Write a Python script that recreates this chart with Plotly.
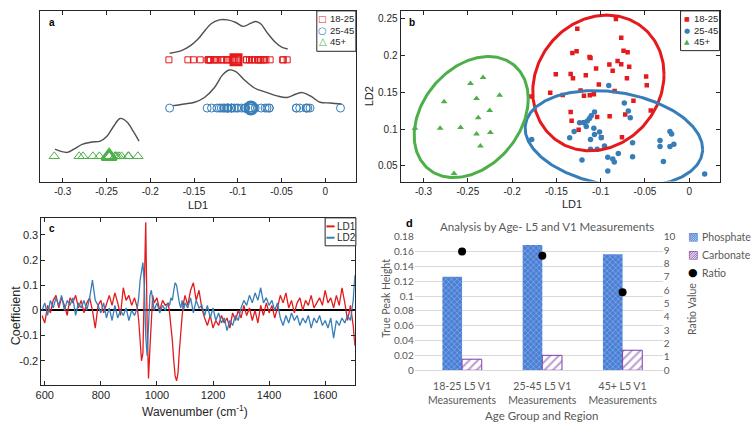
import numpy as np
import plotly.graph_objects as go

W, H = 752, 426


def px(X):
    return X / W


def py(Y):
    return 1 - Y / H


RED = "#e41a1c"
BLUE = "#377eb8"
GREEN = "#4daf4a"
CURVE = "#505050"
INK = "#262626"
XLGREY = "#595959"
MFONT = "Liberation Sans, Arial, Helvetica, sans-serif"
XFONT = "Lato, Open Sans, sans-serif"
SYMFONT = "DejaVu Sans, sans-serif"

# ---------------- panels a & b : LD scores per age group ----------------
groups = ["18-25", "25-45", "45+"]

ld1_18_25 = [-0.0828, -0.1264, -0.0768, -0.1320, -0.1272, -0.1126, -0.1115, -0.0742, -0.0696, -0.0902,
             -0.0865, -0.0809, -0.0768, -0.0678, -0.1507, -0.1339, -0.1313, -0.1168, -0.1052, -0.0704,
             -0.1021, -0.0487, -0.0480, -0.1570, -0.1429, -0.1227, -0.1189, -0.1123, -0.1077, -0.0843,
             -0.1787, -0.1339, -0.1328, -0.1189, -0.1040, -0.0899, -0.0723, -0.0630, -0.0435, -0.1249,
             -0.0992, -0.0760]
ld2_18_25 = [0.2491, 0.2360, 0.2237, 0.2032, 0.2054, 0.1975, 0.1962, 0.2062, 0.2040, 0.1874,
             0.1791, 0.1922, 0.1879, 0.1844, 0.1743, 0.1747, 0.1690, 0.1730, 0.1822, 0.1690,
             0.1603, 0.1712, 0.1594, 0.1493, 0.1463, 0.1524, 0.1450, 0.1458, 0.1472, 0.1515,
             0.1441, 0.1231, 0.1113, 0.1091, 0.1165, 0.1174, 0.1196, 0.1384, 0.1253, 0.0990,
             0.0890, 0.0890]

ld1_25_45 = [-0.0909, -0.0733, -0.0688, -0.0666, -0.1070, -0.1107, -0.1126, -0.1151, -0.1238, -0.1188,
             -0.1163, -0.1077, -0.1300, -0.1350, -0.1013, -0.1070, -0.0995, -0.0957, -0.1115, -0.1115,
             -0.1040, -0.1211, -0.0920, -0.0864, -0.0846, -0.0801, -0.0920, -0.0640, -0.0640, -0.0330,
             -0.0330, -0.0218, -0.0199, -0.0218, -0.0174, -0.0292, 0.0174, -0.1779]
ld2_25_45 = [0.1590, 0.1353, 0.1244, 0.1152, 0.1231, 0.1179, 0.1143, 0.1108, 0.1087, 0.1087,
             0.1034, 0.1012, 0.0968, 0.0881, 0.0960, 0.0925, 0.0881, 0.0772, 0.0859, 0.0728,
             0.0728, 0.0583, 0.0618, 0.0596, 0.0553, 0.0671, 0.0434, 0.0815, 0.0627, 0.0846,
             0.0763, 0.0968, 0.0933, 0.0763, 0.0793, 0.0561, 0.0391, 0.0859]

ld1_45 = [-0.3097, -0.2813, -0.2768, -0.2582, -0.2470, -0.2328, -0.2402, -0.2141, -0.2253, -0.2383,
          -0.2402, -0.2246, -0.2358, -0.2656]
ld2_45 = [0.1012, 0.1012, 0.1370, 0.1021, 0.1616, 0.1699, 0.1415, 0.1458, 0.1252, 0.1152,
          0.0933, 0.0955, 0.0772, 0.0399]

group_means_ld1 = [-0.102, -0.085, -0.247]
row_levels = [3, 2, 1]

# density curves drawn above each row (panel a)
kde_18_25_ld1 = [-0.1778, -0.1645, -0.1532, -0.1457, -0.1381, -0.1305, -0.1211, -0.1117, -0.1022,
                 -0.0935, -0.0851, -0.0795, -0.0738, -0.0663, -0.0568, -0.0493, -0.0429]
kde_18_25_h = [3.137, 3.191, 3.306, 3.426, 3.593, 3.748, 3.828, 3.828, 3.774,
               3.693, 3.760, 3.794, 3.748, 3.559, 3.358, 3.257, 3.225]
kde_25_45_ld1 = [-0.1740, -0.1608, -0.1494, -0.1381, -0.1268, -0.1173, -0.1098, -0.1022, -0.0927, -0.0814,
                 -0.0663, -0.0550, -0.0437, -0.0341, -0.0266, -0.0171, -0.0058, 0.0056, 0.0187]
kde_25_45_h = [2.051, 2.085, 2.120, 2.220, 2.421, 2.688, 2.789, 2.755, 2.588, 2.421,
               2.321, 2.252, 2.220, 2.286, 2.321, 2.252, 2.120, 2.106, 2.085]
kde_45_ld1 = [-0.3090, -0.2949, -0.2874, -0.2779, -0.2666, -0.2571, -0.2495, -0.2421, -0.2345,
              -0.2269, -0.2194, -0.2129]
kde_45_h = [1.147, 1.080, 1.147, 1.247, 1.295, 1.316, 1.416, 1.617, 1.784, 1.718, 1.517, 1.316]

# confidence ellipses (panel b): centre, conjugate semi-axis u, vertical semi-axis
ell_center = [(-0.1026, 0.1625), (-0.0851, 0.0870), (-0.2462, 0.1163)]
ell_u = [(0.0741, 0.0118), (0.1002, -0.0142), (0.0644, 0.0249)]
ell_vy = [0.0911, 0.0635, 0.0781]

ld_ticks = [-0.3, -0.25, -0.2, -0.15, -0.1, -0.05, 0]
ld_tick_text = ["-0.3", "-0.25", "-0.2", "-0.15", "-0.1", "-0.05", "0"]
ld2_ticks = [0.05, 0.1, 0.15, 0.2, 0.25]
ld2_tick_text = ["0.05", "0.1", "0.15", "0.2", "0.25"]

# ---------------- panel c : LD coefficients vs wavenumber ----------------
wavenumber = [590, 600, 610, 620, 630, 640, 650, 660, 670, 680, 690, 700, 710, 720, 730, 740, 750, 760,
              770, 780, 790, 800, 810, 820, 830, 840, 850, 860, 870, 880, 890, 900, 910, 920,
              930, 935, 940, 945, 950, 955, 960, 965, 970, 975, 980, 985, 990,
              1000, 1010, 1020, 1030, 1040,
              1045, 1050, 1055, 1060, 1065, 1070, 1075, 1080, 1085, 1090, 1095,
              1100, 1110, 1120, 1130, 1140, 1150, 1160, 1170, 1180, 1190, 1200, 1210, 1220, 1230,
              1240, 1250, 1260, 1270, 1280, 1290, 1300, 1310, 1320, 1330, 1340, 1350, 1360, 1370,
              1380, 1390, 1400, 1410, 1420, 1430, 1440, 1450, 1460, 1470, 1480, 1490, 1500, 1510,
              1520, 1530, 1540, 1550, 1560, 1570, 1580, 1590, 1600, 1610, 1620, 1630, 1640, 1650,
              1660, 1670, 1680, 1690, 1700, 1706]
coef_ld1 = [-0.02, -0.05, 0.02, -0.01, 0.04, 0.06, 0.01, 0.05, 0.02, -0.02, 0.05, 0.03, 0.06, 0.01,
            0.04, -0.01, 0.03, 0.05, 0.00, -0.07, 0.02, 0.04, -0.01, 0.03, 0.06, 0.02, 0.07, 0.03,
            -0.02, 0.09, 0.04, 0.06, 0.02, 0.05,
            0.01, -0.04, -0.12, -0.20, -0.17, 0.05, 0.35, -0.05, -0.27, -0.15, -0.02, 0.06, 0.03,
            0.05, 0.00, 0.04, 0.02, 0.03,
            -0.01, -0.06, -0.12, -0.20, -0.26, -0.28, -0.25, -0.16, -0.08, -0.02, 0.03,
            0.06, 0.02, 0.08, 0.11, 0.04, 0.08, 0.01, -0.03, -0.06, -0.02, -0.07, -0.04, -0.06,
            -0.02, -0.05, -0.03, -0.07, -0.01, -0.04, 0.00, -0.03, 0.02, -0.02, 0.01, -0.04,
            0.00, -0.05, 0.02, -0.02, 0.03, -0.01, 0.02, -0.03, 0.01, 0.06, 0.03, 0.07, 0.01,
            0.04, -0.01, 0.03, 0.05, 0.00, 0.04, 0.02, 0.06, 0.01, 0.03, 0.05, 0.02, 0.08,
            0.03, 0.05, 0.01, 0.06, 0.02, 0.09, 0.03, -0.04, 0.02, -0.06, -0.14]
coef_ld2 = [0.00, 0.03, -0.02, 0.04, 0.01, 0.05, 0.02, 0.06, 0.00, 0.04, 0.02, 0.05, -0.02, 0.03,
            0.01, 0.04, 0.00, 0.05, 0.12, 0.04, 0.02, -0.01, 0.03, -0.03, 0.01, -0.04, 0.02, -0.03,
            0.00, -0.02, 0.01, -0.04, 0.00, -0.02,
            0.01, 0.05, 0.12, 0.16, 0.19, 0.10, -0.10, -0.18, -0.08, 0.06, 0.08, 0.03, 0.00,
            0.03, -0.01, 0.02, 0.00, 0.03,
            0.02, 0.05, 0.04, 0.08, 0.11, 0.10, 0.06, 0.03, 0.01, 0.04, 0.00,
            0.03, 0.01, 0.05, -0.01, 0.04, 0.01, 0.02, -0.02, 0.02, -0.03, 0.01, -0.04, -0.01,
            -0.05, -0.03, -0.08, -0.04, -0.06, -0.02, -0.04, 0.01, 0.04, 0.02, 0.06, 0.03,
            0.07, 0.04, 0.09, 0.03, 0.05, 0.02, 0.04, 0.00, 0.03, -0.03, -0.06, -0.02, -0.05,
            -0.01, -0.04, -0.02, -0.06, -0.03, -0.05, -0.02, -0.07, -0.03, -0.05, -0.02, -0.06,
            -0.04, -0.07, -0.03, -0.11, -0.04, -0.06, -0.03, -0.05, -0.02, -0.04, 0.04, 0.14]
wn_ticks = [600, 800, 1000, 1200, 1400, 1600]
wn_tick_text = ["600", "800", "1000", "1200", "1400", "1600"]
coef_ticks = [-0.2, -0.1, 0, 0.1, 0.2, 0.3]
coef_tick_text = ["-0.2", "-0.1", "0", "0.1", "0.2", "0.3"]

# ---------------- panel d : peak heights by age ----------------
d_categories = ["18-25 L5 V1<br>Measurements", "25-45 L5 V1<br>Measurements", "45+ L5 V1<br>Measurements"]
phosphate = [0.126, 0.169, 0.1565]
carbonate = [0.0149, 0.0201, 0.027]
ratio = [8.89, 8.57, 5.84]
peak_ticks = [0, 0.02, 0.04, 0.06, 0.08, 0.1, 0.12, 0.14, 0.16, 0.18]
peak_tick_text = ["0", "0.02", "0.04", "0.06", "0.08", "0.1", "0.12", "0.14", "0.16", "0.18"]
ratio_ticks = [0, 1, 2, 3, 4, 5, 6, 7, 8, 9, 10]

fig = go.Figure()

# ---- panel a ----
ld1_sets = [ld1_18_25, ld1_25_45, ld1_45]
kde_x = [kde_18_25_ld1, kde_25_45_ld1, kde_45_ld1]
kde_y = [kde_18_25_h, kde_25_45_h, kde_45_h]
cols = [RED, BLUE, GREEN]
open_syms = ["square-open", "circle-open", "triangle-up-open"]
fill_syms = ["square", "circle", "triangle-up"]
size_a = [6, 8, 9]
size_mean = [10, 12, 13]
for i in range(3):
    fig.add_trace(go.Scatter(x=kde_x[i], y=kde_y[i], mode="lines", line=dict(color=CURVE, width=1.4, shape="spline"),
                             xaxis="x", yaxis="y", showlegend=False, hoverinfo="skip"))
    fig.add_trace(go.Scatter(x=ld1_sets[i], y=[row_levels[i]] * len(ld1_sets[i]), mode="markers",
                             marker=dict(symbol=open_syms[i], size=size_a[i], color=cols[i], line=dict(width=1)),
                             xaxis="x", yaxis="y", showlegend=False))
    fig.add_trace(go.Scatter(x=[group_means_ld1[i]], y=[row_levels[i]], mode="markers",
                             marker=dict(symbol=open_syms[i], size=size_mean[i], color=cols[i], line=dict(width=3)),
                             xaxis="x", yaxis="y", showlegend=False))

# ---- panel b ----
ld2_sets = [ld2_18_25, ld2_25_45, ld2_45]
size_b = [4.5, 5.5, 6]
for i in range(3):
    fig.add_trace(go.Scatter(x=ld1_sets[i], y=ld2_sets[i], mode="markers",
                             marker=dict(symbol=fill_syms[i], size=size_b[i], color=cols[i]),
                             xaxis="x2", yaxis="y2", showlegend=False))
t = np.linspace(0, 2 * np.pi, 241)
for i in range(3):
    cx, cy = ell_center[i]
    ux, uy = ell_u[i]
    ex = cx + ux * np.cos(t)
    ey = cy + uy * np.cos(t) + ell_vy[i] * np.sin(t)
    fig.add_trace(go.Scatter(x=ex, y=ey, mode="lines", line=dict(color=cols[i], width=3),
                             xaxis="x2", yaxis="y2", showlegend=False, hoverinfo="skip"))

# ---- panel c ----
fig.add_trace(go.Scatter(x=wavenumber, y=coef_ld1, mode="lines", line=dict(color=RED, width=1.3),
                         xaxis="x3", yaxis="y3", name="LD1", showlegend=False))
fig.add_trace(go.Scatter(x=wavenumber, y=coef_ld2, mode="lines", line=dict(color=BLUE, width=1.3),
                         xaxis="x3", yaxis="y3", name="LD2", showlegend=False))

# ---- panel d ----
fig.add_trace(go.Bar(x=d_categories, y=phosphate, name="Phosphate", xaxis="x4", yaxis="y4",
                     marker=dict(color="#4a7fd6", line=dict(width=0),
                                 pattern=dict(shape="x", fgcolor="#b9d0f2", bgcolor="#4a7fd6", size=4, solidity=0.35)),
                     showlegend=False))
fig.add_trace(go.Bar(x=d_categories, y=carbonate, name="Carbonate", xaxis="x4", yaxis="y4",
                     marker=dict(color="#7b3fa8", line=dict(width=1, color="#7b3fa8"),
                                 pattern=dict(shape="/", fgcolor="#7b3fa8", bgcolor="white", size=6, solidity=0.35)),
                     showlegend=False))
fig.add_trace(go.Scatter(x=d_categories, y=ratio, name="Ratio", mode="markers", xaxis="x4", yaxis="y5",
                         marker=dict(color="black", size=8), showlegend=False))

box = dict(showline=True, linecolor=INK, linewidth=1, mirror="ticks", ticks="inside", ticklen=4,
           tickcolor=INK, showgrid=False, zeroline=False)
tf10 = dict(family=MFONT, size=10, color=INK)
tf11 = dict(family=MFONT, size=11, color=INK)

fig.update_layout(
    width=W, height=H, margin=dict(l=0, r=0, t=0, b=0), paper_bgcolor="white", plot_bgcolor="white",
    barmode="group", bargap=0.51, bargroupgap=0,
    xaxis=dict(domain=[px(34.3), px(352.7)], range=[-0.326, 0.035], anchor="y", tickvals=ld_ticks,
               ticktext=ld_tick_text, tickfont=tf10, **box),
    yaxis=dict(domain=[py(181), py(4)], range=[0.457, 4.015], anchor="x", showticklabels=False,
               showline=True, linecolor=INK, linewidth=1, mirror=True, ticks="", showgrid=False, zeroline=False),
    xaxis2=dict(domain=[px(397.7), px(720)], range=[-0.326, 0.035], anchor="y2", tickvals=ld_ticks,
                ticktext=ld_tick_text, tickfont=tf10, **box),
    yaxis2=dict(domain=[py(180), py(4)], range=[0.029, 0.2601], anchor="x2", tickvals=ld2_ticks,
                ticktext=ld2_tick_text, tickfont=tf10, **box),
    xaxis3=dict(domain=[px(35.7), px(351.7)], range=[588, 1706], anchor="y3", tickvals=wn_ticks,
                ticktext=wn_tick_text, tickfont=tf11, **box),
    yaxis3=dict(domain=[py(389.5), py(217.5)], range=[-0.2946, 0.3676], anchor="x3", tickvals=coef_ticks,
                ticktext=coef_tick_text, tickfont=tf11,
                showline=True, linecolor=INK, linewidth=1, mirror="ticks", ticks="inside", ticklen=4,
                tickcolor=INK, showgrid=False, zeroline=True, zerolinecolor="black", zerolinewidth=1.5),
    xaxis4=dict(domain=[px(412), px(662)], range=[-0.59, 2.5], anchor="y4", type="category",
                showline=True, linecolor="#d9d9d9", linewidth=1, ticks="", showgrid=False, zeroline=False,
                ticklabelstandoff=6, tickfont=dict(family=XFONT, size=10.5, color=XLGREY)),
    yaxis4=dict(domain=[py(374.7), py(237)], range=[0, 0.18], anchor="x4", tickvals=peak_ticks,
                ticktext=peak_tick_text, showline=False, ticks="", showgrid=True, gridcolor="#d9d9d9",
                gridwidth=1, zeroline=False, tickfont=dict(family=XFONT, size=10, color=XLGREY)),
    yaxis5=dict(overlaying="y4", side="right", anchor="x4", range=[0, 10], tickvals=ratio_ticks,
                showline=False, ticks="", showgrid=False, zeroline=False,
                tickfont=dict(family=XFONT, size=10, color=XLGREY)),
)

ann = []
shapes = []


def text(X, Y, s, size, family=MFONT, color=INK, xanchor="center", angle=0, bold=False):
    if bold:
        s = "<b>" + s + "</b>"
    ann.append(dict(x=px(X), y=py(Y), xref="paper", yref="paper", text=s, showarrow=False,
                    xanchor=xanchor, yanchor="middle", textangle=angle,
                    font=dict(family=family, size=size, color=color)))


# axis titles
text(193.5, 204, "LD1", 11)
text(571, 203, "LD1", 11)
text(366, 92, "LD2", 11, angle=-90)
text(10, 318, "Coefficient", 12.5, angle=-90)
text(191, 417, "Wavenumber (cm<sup>-1</sup>)", 12)
text(540, 421, "Age Group and Region", 11.5, family=XFONT, color=XLGREY)
text(383, 300, "True Peak Height", 10.5, family=XFONT, color=XLGREY, angle=-90)
text(691, 311, "Ratio Value", 10.5, family=XFONT, color=XLGREY, angle=-90)
text(545, 226, "Analysis by Age- L5 and V1 Measurements", 11.5, family=XFONT, color=XLGREY)

# panel letters
text(46.7, 16.5, "a", 10, bold=True, color="black")
text(409.3, 16, "b", 10, bold=True, color="black")
text(46.7, 228, "c", 10, bold=True, color="black")
text(407, 222.5, "d", 11, bold=True, color="black")

# legend panel a
shapes.append(dict(type="rect", xref="paper", yref="paper", x0=px(313.3), x1=px(352.7), y0=py(45.7), y1=py(4),
                   line=dict(color=INK, width=1), fillcolor="white", layer="above"))
for i, (Y, g) in enumerate(zip([12.3, 24.3, 36.0], groups)):
    sym = ["□", "○", "△"][i]
    text(319.5, Y, sym, [9, 10, 10][i], family=SYMFONT, color=cols[i])
    text(324.8, Y, g, 9.5, xanchor="left")

# legend panel b
shapes.append(dict(type="rect", xref="paper", yref="paper", x0=px(680), x1=px(719.3), y0=py(45), y1=py(4),
                   line=dict(color=INK, width=1), fillcolor="white", layer="above"))
for i, (Y, g) in enumerate(zip([12.3, 24.3, 36.0], groups)):
    sym = ["■", "●", "▲"][i]
    text(686.5, Y, sym, [6, 7, 7][i], family=SYMFONT, color=cols[i])
    text(691.5, Y, g, 9.5, xanchor="left")

# legend panel c
shapes.append(dict(type="rect", xref="paper", yref="paper", x0=px(321.7), x1=px(352.7), y0=py(246.3), y1=py(217.5),
                   line=dict(color=INK, width=1), fillcolor="white", layer="above"))
for Y, c, nm in [(226.3, RED, "LD1"), (238.0, BLUE, "LD2")]:
    shapes.append(dict(type="line", xref="paper", yref="paper", x0=px(323.0), x1=px(331.2), y0=py(Y), y1=py(Y),
                       line=dict(color=c, width=2), layer="above"))
    text(331.6, Y, nm, 10, xanchor="left")

# legend panel d
for Y, sym, c, nm in [(237.0, "▩", "#4a7fd6", "Phosphate"), (255.7, "▨", "#7b3fa8", "Carbonate"),
                      (274.0, "●", "black", "Ratio")]:
    text(693.0, Y, sym, 11, family=SYMFONT, color=c)
    text(699.5, Y, nm, 10.5, family=XFONT, color=XLGREY, xanchor="left")

fig.update_layout(annotations=ann, shapes=shapes)
fig.write_html("out.html")
